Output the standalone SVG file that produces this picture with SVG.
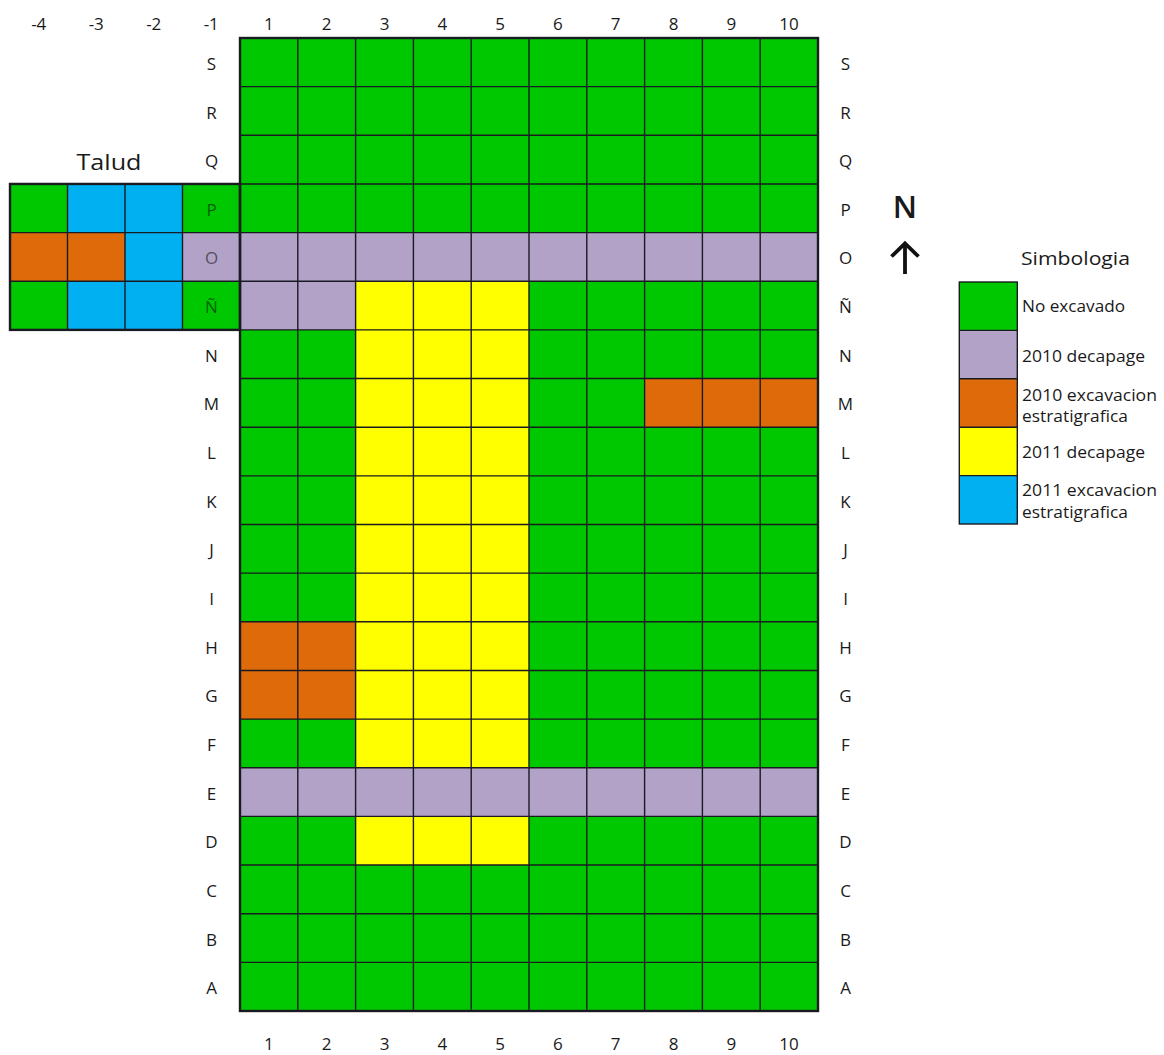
<svg xmlns="http://www.w3.org/2000/svg" width="1164" height="1055" viewBox="0 0 1164 1055">
<style>
.g{fill:#00c800}.p{fill:#b3a2c7}.o{fill:#de6a0a}.y{fill:#ffff00}.b{fill:#00b0f0}
.ln{fill:none;stroke:#1a1a22;stroke-width:1.4}
.bd{fill:none;stroke:#1a1a22;stroke-width:2.4}
text{font-family:"Open Sans","Liberation Sans",sans-serif;fill:#1a1a1a}
.lb{font-size:17px;text-anchor:middle}
.in{font-size:17px;text-anchor:middle;fill:#000;fill-opacity:0.55}
.lg{font-size:15.5px}
</style>
<rect width="1164" height="1055" fill="#fff"/>
<g id="main-grid-fills">
<rect class="g" x="240" y="38" width="578" height="973"/>
<rect class="p" x="240" y="232.6" width="578" height="48.65"/>
<rect class="p" x="240" y="281.25" width="115.6" height="48.65"/>
<rect class="y" x="355.6" y="281.25" width="173.4" height="486.5"/>
<rect class="o" x="644.6" y="378.55" width="173.4" height="48.65"/>
<rect class="o" x="240" y="621.8" width="115.6" height="97.3"/>
<rect class="p" x="240" y="767.75" width="578" height="48.65"/>
<rect class="y" x="355.6" y="816.4" width="173.4" height="48.65"/>
</g>
<g id="talud-fills">
<rect class="g" x="10" y="183.95" width="230" height="145.95"/>
<rect class="b" x="125" y="183.95" width="57.5" height="145.95"/>
<rect class="b" x="67.5" y="183.95" width="57.5" height="48.65"/>
<rect class="b" x="67.5" y="281.25" width="57.5" height="48.65"/>
<rect class="o" x="10" y="232.6" width="115" height="48.65"/>
<rect class="p" x="182.5" y="232.6" width="57.5" height="48.65"/>
</g>
<g id="grid-lines">
<path class="ln" d="M297.8 38V1011M355.6 38V1011M413.4 38V1011M471.2 38V1011M529 38V1011M586.8 38V1011M644.6 38V1011M702.4 38V1011M760.2 38V1011
M240 86.65H818M240 135.3H818M240 183.95H818M240 232.6H818M240 281.25H818M240 329.9H818M240 378.55H818M240 427.2H818M240 475.85H818M240 524.5H818M240 573.15H818M240 621.8H818M240 670.45H818M240 719.1H818M240 767.75H818M240 816.4H818M240 865.05H818M240 913.7H818M240 962.35H818
M67.5 183.95V329.9M125 183.95V329.9M182.5 183.95V329.9M10 232.6H240M10 281.25H240"/>
<rect class="bd" x="240" y="38" width="578" height="973"/>
<rect class="bd" x="10" y="183.95" width="230" height="145.95"/>
</g>
<g id="column-labels-top">
<text class="lb" x="38.75" y="30">-4</text>
<text class="lb" x="96.25" y="30">-3</text>
<text class="lb" x="153.75" y="30">-2</text>
<text class="lb" x="211.25" y="30">-1</text>
<text class="lb" x="268.9" y="30">1</text>
<text class="lb" x="326.7" y="30">2</text>
<text class="lb" x="384.5" y="30">3</text>
<text class="lb" x="442.3" y="30">4</text>
<text class="lb" x="500.1" y="30">5</text>
<text class="lb" x="557.9" y="30">6</text>
<text class="lb" x="615.7" y="30">7</text>
<text class="lb" x="673.5" y="30">8</text>
<text class="lb" x="731.3" y="30">9</text>
<text class="lb" x="789.1" y="30">10</text>
</g>
<g id="column-labels-bottom">
<text class="lb" x="268.9" y="1050">1</text>
<text class="lb" x="326.7" y="1050">2</text>
<text class="lb" x="384.5" y="1050">3</text>
<text class="lb" x="442.3" y="1050">4</text>
<text class="lb" x="500.1" y="1050">5</text>
<text class="lb" x="557.9" y="1050">6</text>
<text class="lb" x="615.7" y="1050">7</text>
<text class="lb" x="673.5" y="1050">8</text>
<text class="lb" x="731.3" y="1050">9</text>
<text class="lb" x="789.1" y="1050">10</text>
</g>
<g id="row-labels-left">
<text class="lb" x="211.5" y="69.8">S</text>
<text class="lb" x="211.5" y="118.5">R</text>
<text class="lb" x="211.5" y="167.1">Q</text>
<text class="in" x="211.5" y="215.8">P</text>
<text class="in" x="211.5" y="264.4">O</text>
<text class="in" x="211.5" y="313.1">Ñ</text>
<text class="lb" x="211.5" y="361.7">N</text>
<text class="lb" x="211.5" y="410.4">M</text>
<text class="lb" x="211.5" y="459">L</text>
<text class="lb" x="211.5" y="507.7">K</text>
<text class="lb" x="211.5" y="556.3">J</text>
<text class="lb" x="211.5" y="605">I</text>
<text class="lb" x="211.5" y="653.6">H</text>
<text class="lb" x="211.5" y="702.3">G</text>
<text class="lb" x="211.5" y="750.9">F</text>
<text class="lb" x="211.5" y="799.6">E</text>
<text class="lb" x="211.5" y="848.2">D</text>
<text class="lb" x="211.5" y="896.9">C</text>
<text class="lb" x="211.5" y="945.5">B</text>
<text class="lb" x="211.5" y="994.2">A</text>
</g>
<g id="row-labels-right">
<text class="lb" x="845.5" y="69.8">S</text>
<text class="lb" x="845.5" y="118.5">R</text>
<text class="lb" x="845.5" y="167.1">Q</text>
<text class="lb" x="845.5" y="215.8">P</text>
<text class="lb" x="845.5" y="264.4">O</text>
<text class="lb" x="845.5" y="313.1">Ñ</text>
<text class="lb" x="845.5" y="361.7">N</text>
<text class="lb" x="845.5" y="410.4">M</text>
<text class="lb" x="845.5" y="459">L</text>
<text class="lb" x="845.5" y="507.7">K</text>
<text class="lb" x="845.5" y="556.3">J</text>
<text class="lb" x="845.5" y="605">I</text>
<text class="lb" x="845.5" y="653.6">H</text>
<text class="lb" x="845.5" y="702.3">G</text>
<text class="lb" x="845.5" y="750.9">F</text>
<text class="lb" x="845.5" y="799.6">E</text>
<text class="lb" x="845.5" y="848.2">D</text>
<text class="lb" x="845.5" y="896.9">C</text>
<text class="lb" x="845.5" y="945.5">B</text>
<text class="lb" x="845.5" y="994.2">A</text>
</g>
<g id="talud-label">
<text x="76.5" y="170" font-size="22" textLength="65" lengthAdjust="spacingAndGlyphs">Talud</text>
</g>
<g id="north">
<text x="905" y="218" font-size="31" font-weight="600" text-anchor="middle">N</text>
<path d="M905 274V245M891.5 256.5L905 243.5L918.5 256.5" fill="none" stroke="#111" stroke-width="3.8"/>
</g>
<g id="legend">
<text x="1021" y="265" font-size="19" textLength="109" lengthAdjust="spacingAndGlyphs">Simbologia</text>
<rect class="g" x="959.3" y="282" width="58" height="48.4"/>
<rect class="p" x="959.3" y="330.4" width="58" height="48.4"/>
<rect class="o" x="959.3" y="378.8" width="58" height="48.4"/>
<rect class="y" x="959.3" y="427.2" width="58" height="48.4"/>
<rect class="b" x="959.3" y="475.6" width="58" height="48.4"/>
<path class="ln" d="M959.3 330.4H1017.3M959.3 378.8H1017.3M959.3 427.2H1017.3M959.3 475.6H1017.3"/>
<rect class="ln" x="959.3" y="282" width="58" height="242"/>
<text class="lg" x="1022" y="311.5" textLength="103" lengthAdjust="spacingAndGlyphs">No excavado</text>
<text class="lg" x="1022" y="361.5" textLength="123" lengthAdjust="spacingAndGlyphs">2010 decapage</text>
<text class="lg" x="1022" y="400.5" textLength="135" lengthAdjust="spacingAndGlyphs">2010 excavacion</text>
<text class="lg" x="1022" y="421.5" textLength="106" lengthAdjust="spacingAndGlyphs">estratigrafica</text>
<text class="lg" x="1022" y="458" textLength="123" lengthAdjust="spacingAndGlyphs">2011 decapage</text>
<text class="lg" x="1022" y="496" textLength="135" lengthAdjust="spacingAndGlyphs">2011 excavacion</text>
<text class="lg" x="1022" y="518" textLength="106" lengthAdjust="spacingAndGlyphs">estratigrafica</text>
</g>
</svg>
